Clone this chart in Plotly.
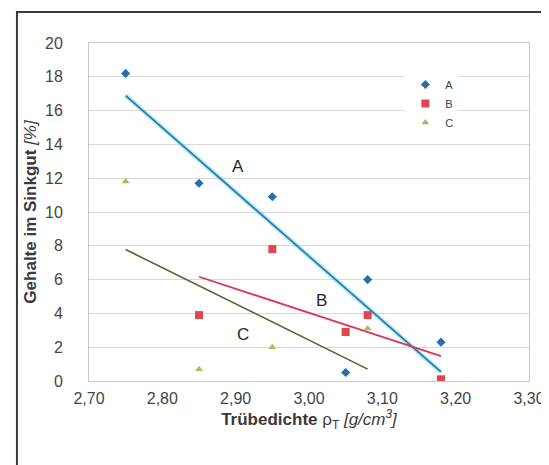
import numpy as np
import plotly.graph_objects as go

# Data
a_x = [2.75, 2.85, 2.95, 3.05, 3.08, 3.18]
a_y = [18.2, 11.7, 10.9, 0.5, 6.0, 2.3]
b_x = [2.85, 2.95, 3.05, 3.08, 3.18]
b_y = [3.9, 7.8, 2.9, 3.9, 0.1]
c_x = [2.75, 2.85, 2.95, 3.08]
c_y = [11.8, 0.7, 2.0, 3.1]
series_names = ["A", "B", "C"]
x_ticks = [2.7, 2.8, 2.9, 3.0, 3.1, 3.2, 3.3]
y_ticks = [0, 2, 4, 6, 8, 10, 12, 14, 16, 18, 20]

# geometry of plot area in px
L, R, T, B = 81, 533, 35, 373
W, H = 549, 465

def trend(xs, ys):
    k, d = np.polyfit(xs, ys, 1)
    xe = [min(xs), max(xs)]
    return xe, [k * v + d for v in xe]

fig = go.Figure()

# trendlines
tax, tay = trend(a_x, a_y)
tbx, tby = trend(b_x, b_y)
tcx, tcy = trend(c_x, c_y)
fig.add_trace(go.Scatter(x=tax, y=tay, mode="lines", line=dict(color="rgba(100,205,245,0.5)", width=4.5),
                         showlegend=False, hoverinfo="skip"))
fig.add_trace(go.Scatter(x=tax, y=tay, mode="lines", line=dict(color="#1f7aa6", width=1.6),
                         showlegend=False, hoverinfo="skip"))
fig.add_trace(go.Scatter(x=tbx, y=tby, mode="lines", line=dict(color="#e2334f", width=1.8),
                         showlegend=False, hoverinfo="skip"))
fig.add_trace(go.Scatter(x=tcx, y=tcy, mode="lines", line=dict(color="#56632c", width=1.6),
                         showlegend=False, hoverinfo="skip"))

# markers
fig.add_trace(go.Scatter(x=a_x, y=a_y, mode="markers", name=series_names[0],
                         marker=dict(symbol="diamond", size=7, color="#2470ae")))
fig.add_trace(go.Scatter(x=b_x, y=b_y, mode="markers", name=series_names[1],
                         marker=dict(symbol="square", size=8, color="#e0474a")))
fig.add_trace(go.Scatter(x=c_x, y=c_y, mode="markers", name=series_names[2],
                         marker=dict(symbol="triangle-up", size=7, color="#a3bf5f")))

FONT = "Liberation Sans, Arial"

# in-plot labels
for txt, xx, yy in [("A", 2.903, 12.7), ("B", 3.017, 4.75), ("C", 2.91, 2.75)]:
    fig.add_annotation(x=xx, y=yy, text=txt, showarrow=False,
                       font=dict(size=17, color="#262626", family=FONT))

# outer frame
def px2paper_x(px):
    return (px - L) / (R - L)

def px2paper_y(py):
    return (B - py) / (B - T)

fig.add_shape(type="rect", xref="paper", yref="paper",
              x0=px2paper_x(7), x1=px2paper_x(560), y0=px2paper_y(470), y1=px2paper_y(4),
              line=dict(color="#3a3a3a", width=2), fillcolor="rgba(0,0,0,0)", layer="above")

tickfont = dict(size=16, color="#454545", family=FONT)
titlefont = dict(size=17, color="#3a3a3a", family=FONT)

fig.update_layout(
    width=W, height=H,
    margin=dict(l=L, r=W - R, t=T, b=H - B),
    paper_bgcolor="white", plot_bgcolor="white",
    separators=",.",
    showlegend=True,
    legend=dict(x=px2paper_x(406), y=px2paper_y(62), xanchor="left", yanchor="top",
                bgcolor="white", font=dict(size=11, color="#404040", family=FONT),
                tracegroupgap=0, borderwidth=0),
    xaxis=dict(range=[2.7, 3.3], tickvals=x_ticks, tickformat=".2f", showgrid=False,
               zeroline=False, showline=True, linecolor="#c8c8c8", linewidth=1, mirror=True,
               tickfont=tickfont, ticks="", ticklabelstandoff=3,
               title=dict(text="<b>Trübedichte</b> ρ<sub>T</sub> <i>[g/cm<sup>3</sup>]</i>",
                          font=titlefont, standoff=2)),
    yaxis=dict(range=[0, 20], tickvals=y_ticks, showgrid=True, gridcolor="#d9d9d9", gridwidth=1,
               zeroline=False, showline=True, linecolor="#c8c8c8", linewidth=1, mirror=True,
               tickfont=tickfont, ticks="", ticklabelstandoff=22,
               title=dict(text="<b>Gehalte im Sinkgut</b> <i>[%]</i>", font=titlefont, standoff=4)),
)

fig.write_html("out.html")
